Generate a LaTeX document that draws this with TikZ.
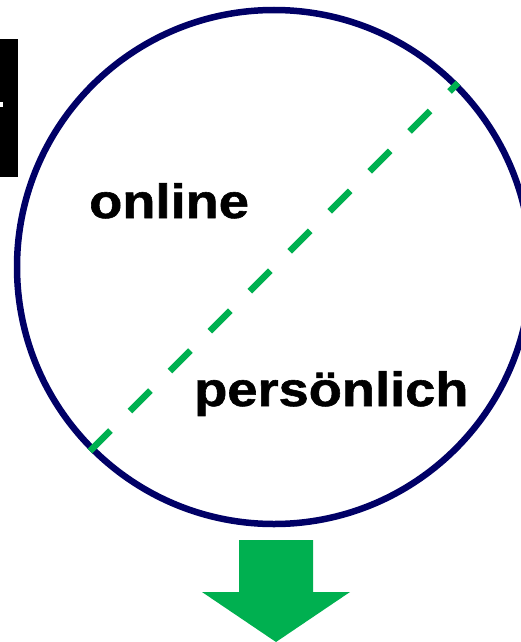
\documentclass[tikz,border=0pt]{standalone}
\usepackage{fontspec}
\setmainfont{Liberation Sans}
\newfontfamily\labelfont[FakeStretch=1.13, FakeBold=1.2]{Liberation Sans Bold}
\usepackage{xcolor}
\usetikzlibrary{positioning}
\definecolor{mNavy}{HTML}{000066}
\definecolor{mGreen}{HTML}{00B050}

\begin{document}
\begin{tikzpicture}[x=1pt, y=-1pt,
  zonebox/.style={circle, draw=mNavy, line width=6.5pt, inner sep=0pt,
                  minimum size=514pt},
  divider/.style={draw=mGreen, line width=6.5pt, dash pattern=on 29pt off 27.5pt},
  word/.style={anchor=base west, inner sep=0pt, font=\labelfont\fontsize{48}{48}\selectfont},
]
  \useasboundingbox (0,0) rectangle (520,642);
  % cut-off bar on the left
  \fill[black] (0,39) rectangle (18,177);
  \fill[white] (0,102) rectangle (3,107);
  % circle split in two
  \node[zonebox] (zone) at (274,267) {};
  \draw[divider] (zone.225) -- (zone.45);
  \node[word] (online) at (89,218) {online};
  \node[word] (personal) at (194,406) {persönlich};
  % arrow below
  \fill[mGreen] (239,540) -- (313,540) -- (313,592) -- (350,592)
    -- (276,642) -- (202,592) -- (239,592) -- cycle;
\end{tikzpicture}
\end{document}
